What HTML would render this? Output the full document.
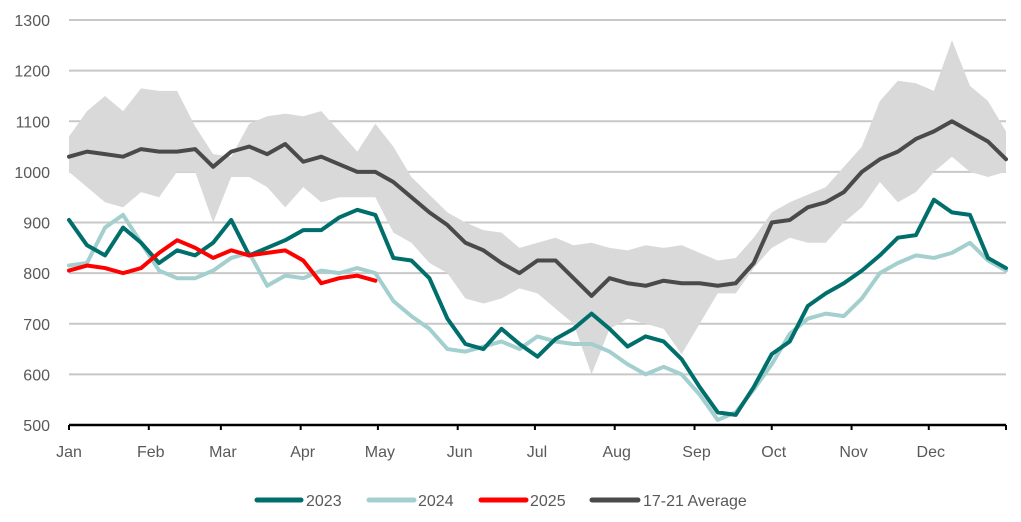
<!DOCTYPE html>
<html><head><meta charset="utf-8"><style>
body{margin:0;background:#fff;width:1021px;height:517px;overflow:hidden}
svg text{font-family:"Liberation Sans",sans-serif;fill:#595959}
</style></head><body>
<svg id="chart" width="1021" height="517" xmlns="http://www.w3.org/2000/svg">
<g id="grid"></g>
<g id="band"></g>
<g id="lines"></g>
<g id="axes"></g>
<g id="legend">
 <g><line x1="257" y1="500" x2="301" y2="500" stroke="#006e6b" stroke-width="5" stroke-linecap="round"/><text x="306" y="506" font-size="16">2023</text></g>
 <g><line x1="369" y1="500" x2="414" y2="500" stroke="#a4cfcf" stroke-width="5" stroke-linecap="round"/><text x="418" y="506" font-size="16">2024</text></g>
 <g><line x1="481" y1="500" x2="526" y2="500" stroke="#ff0000" stroke-width="5" stroke-linecap="round"/><text x="530" y="506" font-size="16">2025</text></g>
 <g><line x1="592" y1="500" x2="638" y2="500" stroke="#4a4a4a" stroke-width="5" stroke-linecap="round"/><text x="643" y="506" font-size="16">17-21 Average</text></g>
</g>
</svg>
<script>
const months=["Jan","Feb","Mar","Apr","May","Jun","Jul","Aug","Sep","Oct","Nov","Dec"];
const monthStartDays=[0,31,59,90,120,151,181,212,243,273,304,334];
const yTicks=[500,600,700,800,900,1000,1100,1200,1300];
const weekDays=[];for(let i=0;i<53;i++)weekDays.push(i*7);
const avg=[1030,1040,1035,1030,1045,1040,1040,1045,1010,1040,1050,1035,1055,1020,1030,1015,1000,1000,980,950,920,895,860,845,820,800,825,825,790,755,790,780,775,785,780,780,775,780,820,900,905,930,940,960,1000,1025,1040,1065,1080,1100,1080,1060,1025];
const upper=[1070,1120,1150,1120,1165,1160,1160,1090,1035,1030,1095,1110,1115,1110,1120,1080,1040,1095,1050,990,955,920,900,885,880,850,860,870,855,860,850,845,855,850,855,840,825,830,870,920,940,955,970,1010,1050,1140,1180,1175,1160,1260,1170,1140,1080];
const lower=[1000,970,940,930,960,950,1000,1000,900,990,990,970,930,970,940,950,950,950,880,860,820,800,750,740,750,770,760,730,700,600,690,710,700,690,640,700,760,760,810,850,870,860,860,900,930,980,940,960,1000,1030,1000,990,1000];
const s2023=[905,855,835,890,860,820,845,835,860,905,835,850,865,885,885,910,925,915,830,825,790,710,660,650,690,660,635,670,690,720,690,655,675,665,630,575,525,520,575,640,665,735,760,780,805,835,870,875,945,920,915,830,810];
const s2024=[815,820,890,915,860,805,790,790,805,830,840,775,795,790,805,800,810,800,745,715,690,650,645,655,665,650,675,665,660,660,645,620,600,615,600,560,510,525,570,620,680,710,720,715,750,800,820,835,830,840,860,825,805];
const s2025=[805,815,810,800,810,840,865,850,830,845,835,840,845,825,780,790,795,785];
const X0=69,X1=1006,Y0=425,Y1=20;
const x=d=>X0+d*(X1-X0)/364;
const y=v=>Y0-(v-500)*(Y0-Y1)/800;
const NS="http://www.w3.org/2000/svg";
function mk(tag,parent,attrs){const e=document.createElementNS(NS,tag);for(const k in attrs)e.setAttribute(k,attrs[k]);parent.appendChild(e);return e;}
const grid=document.getElementById('grid'),axes=document.getElementById('axes');
yTicks.forEach(t=>{
 if(t>500){const g=mk('line',grid,{x1:X0,x2:X1,y1:y(t),y2:y(t),stroke:'#c8c8c8','stroke-width':2});
 
 }
 const l=mk('text',axes,{x:50,y:y(t)+6,'text-anchor':'end','font-size':16});l.textContent=t;
 
 
});
const ax=mk('line',axes,{x1:X0,x2:X1,y1:Y0,y2:Y0,stroke:'#000','stroke-width':2.5});


monthStartDays.concat([364]).forEach(d=>{const t=mk('line',axes,{x1:x(d),x2:x(d),y1:Y0,y2:Y0+5,stroke:'#000','stroke-width':2});
 
 });
months.forEach((m,i)=>{const l=mk('text',axes,{x:x(monthStartDays[i])+(i==0?0:2),y:457,'text-anchor':'middle','font-size':16});l.textContent=m;
 
 });
let bp=weekDays.map((d,i)=>x(d)+','+y(upper[i]));
for(let i=weekDays.length-1;i>=0;i--)bp.push(x(weekDays[i])+','+y(lower[i]));
const band=mk('polygon',document.getElementById('band'),{points:bp.join(' '),fill:'#d9d9d9'});


const lines=document.getElementById('lines');
function line(arr,color,name){const p=arr.map((v,i)=>x(weekDays[i])+','+y(v)).join(' ');
 const e=mk('polyline',lines,{points:p,fill:'none',stroke:color,'stroke-width':4,'stroke-linejoin':'round','stroke-linecap':'round'});
 
 }
line(avg,'#4a4a4a','line-average');
line(s2024,'#a4cfcf','line-2024');
line(s2023,'#006e6b','line-2023');
line(s2025,'#ff0000','line-2025');
</script>
</body></html>
